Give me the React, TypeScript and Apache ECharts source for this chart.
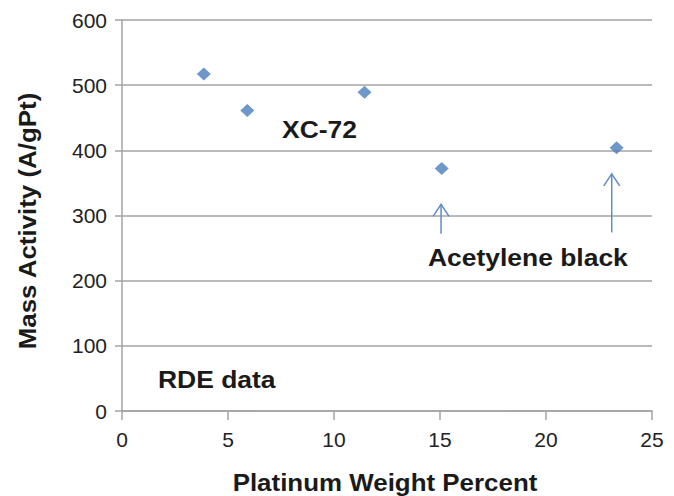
import React, { useEffect, useRef } from "react";
import * as echarts from "echarts";

const xValues = [3.86, 5.91, 11.44, 15.08, 23.33];
const yValues = [517, 461, 489, 372, 404];

const arrowX = [15.05, 23.1];
const arrowTail = [272, 274];
const arrowHead = [317, 364];

const xAxisTitle = "Platinum Weight Percent";
const yAxisTitle = "Mass Activity (A/gPt)";
const annotations = ["XC-72", "Acetylene black", "RDE data"];

export default function App() {
  const ref = useRef<HTMLDivElement>(null);
  useEffect(() => {
    document.body.style.margin = "0";
    const chart = echarts.init(ref.current!, null, { renderer: "svg" });
    const axisColor = "#a3a3a3";
    const font = "Liberation Sans, Arial, sans-serif";
    const annStyle = (text: string) => ({
      text,
      font: `bold 23px ${font}`,
      fill: "#1a1a1a",
      textVerticalAlign: "middle",
    });
    chart.setOption({
      animation: false,
      backgroundColor: "#ffffff",
      grid: { left: 122, right: 22, top: 20, bottom: 85, containLabel: false },
      xAxis: {
        type: "value",
        min: 0,
        max: 25,
        interval: 5,
        axisLine: { show: true, lineStyle: { color: axisColor, width: 1.5 } },
        axisTick: { show: true, length: 9, lineStyle: { color: axisColor, width: 1.5 } },
        splitLine: { show: false },
        axisLabel: { color: "#222", fontSize: 21, fontFamily: font, margin: 18 },
      },
      yAxis: {
        type: "value",
        min: 0,
        max: 600,
        interval: 100,
        axisLine: { show: true, lineStyle: { color: axisColor, width: 1.5 } },
        axisTick: { show: true, length: 7, lineStyle: { color: axisColor, width: 1.5 } },
        splitLine: { show: true, lineStyle: { color: axisColor, width: 1.5 } },
        axisLabel: { color: "#222", fontSize: 21, fontFamily: font, margin: 15 },
      },
      graphic: [
        {
          type: "text",
          x: 27,
          y: 221,
          rotation: Math.PI / 2,
          scaleX: 1.08,
          style: {
            text: yAxisTitle,
            font: `bold 24px ${font}`,
            fill: "#1a1a1a",
            textAlign: "center",
            textVerticalAlign: "middle",
          },
        },
        {
          type: "text",
          x: 385,
          y: 482,
          scaleX: 1.08,
          style: {
            text: xAxisTitle,
            font: `bold 24px ${font}`,
            fill: "#1a1a1a",
            textAlign: "center",
            textVerticalAlign: "middle",
          },
        },
        { type: "text", x: 282, y: 130, scaleX: 1.15, style: annStyle(annotations[0]) },
        { type: "text", x: 428, y: 258, scaleX: 1.15, style: annStyle(annotations[1]) },
        { type: "text", x: 158, y: 380, scaleX: 1.15, style: annStyle(annotations[2]) },
      ],
      series: [
        {
          type: "scatter",
          symbol: "diamond",
          symbolSize: [14, 13],
          itemStyle: { color: "#4a7ebb" },
          data: xValues.map((x, i) => [x, yValues[i]]),
          z: 5,
        },
        {
          type: "custom",
          data: arrowX.map((x, i) => [x, arrowTail[i], arrowHead[i]]),
          renderItem: (params: any, api: any) => {
            const x = api.value(0);
            const p0 = api.coord([x, api.value(1)]);
            const p1 = api.coord([x, api.value(2)]);
            const stroke = "#5f8cc4";
            return {
              type: "group",
              children: [
                {
                  type: "line",
                  shape: { x1: p0[0], y1: p0[1], x2: p1[0], y2: p1[1] },
                  style: { stroke, lineWidth: 1.5 },
                },
                {
                  type: "polyline",
                  shape: {
                    points: [
                      [p1[0] - 8, p1[1] + 12],
                      [p1[0], p1[1]],
                      [p1[0] + 8, p1[1] + 12],
                    ],
                  },
                  style: { stroke, lineWidth: 1.5, fill: "none" },
                },
              ],
            };
          },
          z: 4,
        },
      ],
    });
    return () => chart.dispose();
  }, []);
  return <div ref={ref} style={{ width: 674, height: 496 }} />;
}
